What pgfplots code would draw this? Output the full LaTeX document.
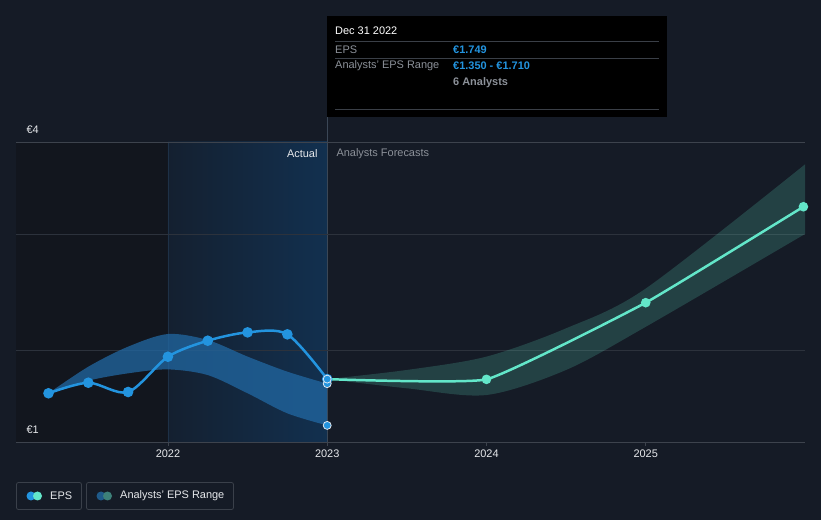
\documentclass[border=0pt]{standalone}
\usepackage{pgfplots}
\pgfplotsset{compat=1.18}
\usepgfplotslibrary{fillbetween}
\usepackage{fontspec}
\setmainfont{Liberation Sans}

\definecolor{bg}{HTML}{151B26}
\definecolor{darkzone}{HTML}{12161E}
\definecolor{zoneL}{HTML}{142030}
\definecolor{zoneR}{HTML}{12304F}
\definecolor{line22}{HTML}{1E3147}
\definecolor{line23}{HTML}{3B4756}
\definecolor{gridc}{HTML}{2C323C}
\definecolor{axisc}{HTML}{3D434D}
\definecolor{epsblue}{HTML}{2394DF}
\definecolor{mint}{HTML}{63E6C9}
\definecolor{pastband}{HTML}{2168A3}
\definecolor{ringc}{HTML}{E1E8F0}
\definecolor{sepc}{HTML}{3A3F47}
\definecolor{legbox}{HTML}{3A404A}
\definecolor{legband1}{HTML}{1F5A8A}
\definecolor{legband2}{HTML}{3D8079}
\definecolor{txtgray}{HTML}{8C9199}
\definecolor{txtwhite}{HTML}{E6E8EB}

\newcommand{\fs}{\fontsize{11}{13}\selectfont}
\pagecolor{bg}

\begin{document}
\begin{tikzpicture}
\begin{scope}
\path[use as bounding box] (0,0) rectangle (821bp,520bp);
\end{scope}

\begin{axis}[
    at={(16bp,78bp)}, anchor=south west,
    scale only axis, width=789bp, height=300bp,
    xmin=2021.046, xmax=2026.0,
    ymin=1.207, ymax=3.793,
    axis line style={draw=none},
    ytick=\empty,
    xtick={2022,2023,2024,2025},
    xticklabels={2022,2023,2024,2025},
    xtick pos=bottom, tick align=outside,
    major tick length=4bp,
    xtick style={color=axisc, line width=0.8},
    ticklabel style={font=\fs, text=txtwhite},
]
\begin{pgfonlayer}{axis background}
  \fill[darkzone] (axis cs:2021.046,1.207) rectangle (axis cs:2022,3.793);
  \shade[left color=zoneL, right color=zoneR] (axis cs:2022,1.207) rectangle (axis cs:2023,3.793);
  \draw[color=line22, line width=0.8] (axis cs:2022,1.207) -- (axis cs:2022,3.793);
  \draw[color=line23, line width=0.8] (axis cs:2023,1.207) -- (axis cs:2023,3.793);
  \draw[color=gridc, line width=0.8] (axis cs:2021.046,2) -- (axis cs:2026,2);
  \draw[color=gridc, line width=0.8] (axis cs:2021.046,3) -- (axis cs:2026,3);
  \draw[color=axisc, line width=0.8] (axis cs:2021.046,3.793) -- (axis cs:2026,3.793);
  \draw[color=axisc, line width=0.8] (axis cs:2021.046,1.207) -- (axis cs:2026,1.207);
\end{pgfonlayer}

% past analysts range
\addplot[name path=pu, draw=none, smooth] coordinates {
 (2021.25,1.627) (2021.5,1.856) (2021.75,2.029) (2022,2.138) (2022.25,2.086)
 (2022.5,1.943) (2022.75,1.813) (2023,1.71)};
\addplot[name path=pl, draw=none, smooth] coordinates {
 (2021.25,1.627) (2021.5,1.736) (2021.75,1.799) (2022,1.833) (2022.25,1.784)
 (2022.5,1.627) (2022.75,1.454) (2023,1.35)};
\addplot[fill=pastband, fill opacity=0.75, draw=none] fill between[of=pu and pl];

% forecast range
\addplot[name path=fu, draw=none, smooth] coordinates {
 (2023,1.749) (2023.5,1.828) (2024,1.943) (2024.5,2.187) (2025,2.53) (2026,3.60)};
\addplot[name path=fl, draw=none, smooth] coordinates {
 (2023,1.749) (2023.5,1.67) (2024,1.612) (2024.5,1.828) (2025,2.20) (2026,3.0)};
\addplot[fill=mint, fill opacity=0.19, draw=none] fill between[of=fu and fl];

% EPS actual
\addplot[color=epsblue, line width=2.5, smooth, tension=0.5,
  mark=*, mark size=4, mark options={fill=epsblue, draw=none}] coordinates {
 (2021.25,1.627) (2021.5,1.718) (2021.75,1.638) (2022,1.942) (2022.25,2.080)
 (2022.5,2.152) (2022.75,2.135) (2023,1.749)};

% EPS forecast
\addplot[color=mint, line width=2.5, smooth, tension=0.22,
  mark=*, mark size=3.5, mark options={fill=mint, draw=none}, mark indices={2,3,4}] coordinates {
 (2023,1.749) (2024,1.747) (2025,2.408) (2025.99,3.235)};

% highlighted points at Dec 31 2022
\addplot[only marks, mark=*, mark size=4,
  mark options={fill=epsblue, draw=ringc, line width=0.8}] coordinates {
 (2023,1.35) (2023,1.71) (2023,1.749)};
\end{axis}

\begin{scope}[x=1bp,y=1bp]
\draw[color=line23, line width=0.8] (327,378) -- (327,403);
% axis value labels
\node[anchor=west, font=\fs, text=txtwhite] at (23,390) {€4};
\node[anchor=west, font=\fs, text=txtwhite] at (23,90) {€1};
\node[anchor=east, font=\fs, text=txtwhite] at (321,366) {Actual};
\node[anchor=west, font=\fs, text=txtgray] at (333,366) {Analysts Forecasts};

% tooltip
\fill[black] (327,403) rectangle (667,504);
\node[anchor=west, font=\fs, text=white, inner sep=0] at (335,489) {Dec 31 2022};
\draw[color=sepc, line width=0.8] (335,478.7) -- (659,478.7);
\node[anchor=west, font=\fs, text=txtgray, inner sep=0] at (335,470.7) {EPS};
\node[anchor=west, font=\fs\bfseries, text=epsblue, inner sep=0] at (453,470.7) {€1.749};
\draw[color=sepc, line width=0.8] (335,461.7) -- (659,461.7);
\node[anchor=west, font=\fs, text=txtgray, inner sep=0] at (335,454) {Analysts' EPS Range};
\node[anchor=west, font=\fs\bfseries, text=epsblue, inner sep=0] at (453,454) {€1.350 - €1.710};
\node[anchor=west, font=\fs\bfseries, text=txtgray, inner sep=0] at (453,437.3) {6 Analysts};
\draw[color=sepc, line width=0.8] (335,410.7) -- (659,410.7);

% legend
\draw[color=legbox, line width=0.8, rounded corners=2] (16.5,10.5) rectangle (81.5,37.5);
\fill[epsblue] (31,24) circle (4.5);
\fill[mint] (37.5,24) circle (4.5);
\node[anchor=west, font=\fs, text=txtwhite, inner sep=0] at (50,24) {EPS};
\draw[color=legbox, line width=0.8, rounded corners=2] (86.5,10.5) rectangle (233.5,37.5);
\fill[legband1] (101,24) circle (4.5);
\fill[legband2] (107.5,24) circle (4.5);
\node[anchor=west, font=\fs, text=txtwhite, inner sep=0] at (120,24) {Analysts' EPS Range};
\end{scope}
\end{tikzpicture}
\end{document}
